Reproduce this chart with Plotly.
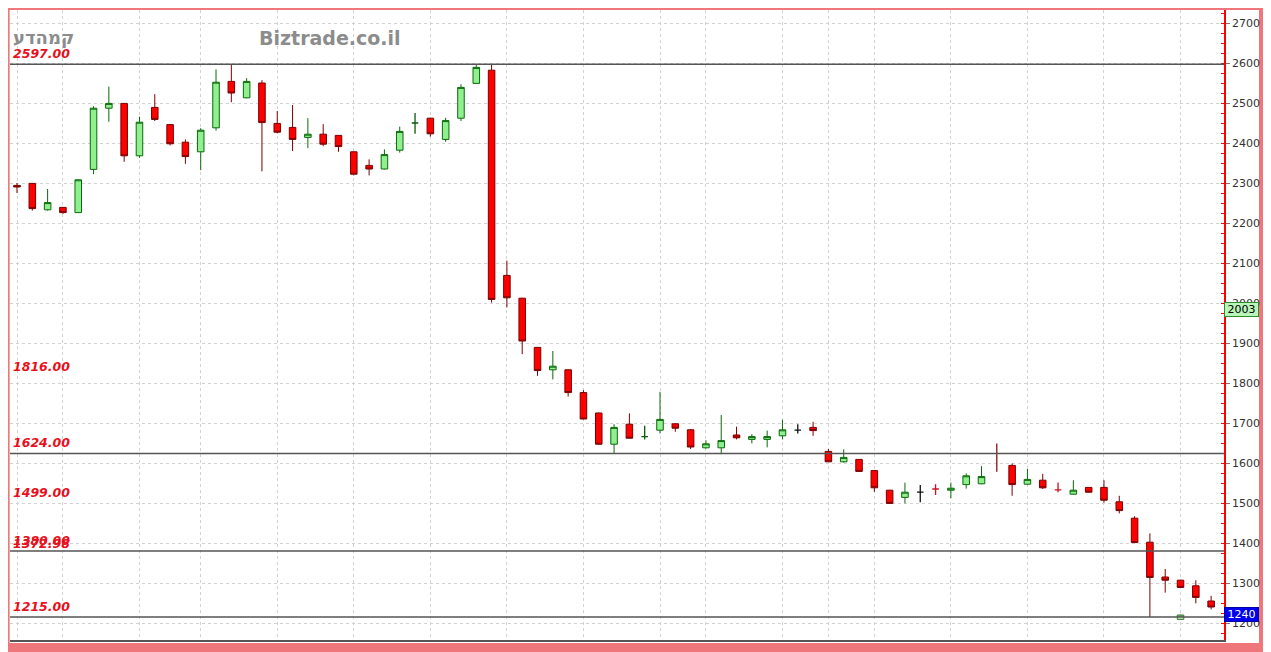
import plotly.graph_objects as go

# ---------------- data ----------------
opens = [2294, 2299, 2233, 2239, 2226, 2334, 2487, 2499, 2368, 2489,
         2446, 2402, 2378, 2438, 2554, 2513, 2550, 2449, 2439, 2414,
         2422, 2419, 2378, 2344, 2335, 2382, 2450, 2462, 2409, 2462,
         2549, 2582, 2069, 2012, 1889, 1833, 1833, 1776, 1725, 1647,
         1697, 1666, 1682, 1698, 1683, 1638, 1638, 1670, 1659, 1659,
         1668, 1682, 1689, 1629, 1603, 1609, 1581, 1532, 1514, 1527,
         1535, 1532, 1546, 1548, 1580, 1594, 1547, 1557, 1533, 1522,
         1539, 1539, 1503, 1462, 1402, 1315, 1307, 1293, 1255]
highs = [2300, 2300, 2285, 2240, 2309, 2492, 2541, 2500, 2466, 2522,
         2447, 2409, 2437, 2584, 2595, 2562, 2557, 2480, 2495, 2462,
         2447, 2420, 2379, 2359, 2384, 2441, 2475, 2463, 2463, 2547,
         2595, 2597, 2106, 2013, 1890, 1880, 1834, 1782, 1726, 1697,
         1724, 1693, 1778, 1700, 1685, 1657, 1720, 1691, 1672, 1681,
         1708, 1697, 1703, 1635, 1634, 1610, 1582, 1533, 1551, 1545,
         1547, 1551, 1574, 1592, 1649, 1599, 1585, 1573, 1551, 1557,
         1540, 1557, 1518, 1467, 1424, 1335, 1308, 1307, 1268]
lows = [2275, 2231, 2231, 2223, 2225, 2322, 2453, 2353, 2363, 2455,
        2394, 2348, 2332, 2431, 2502, 2512, 2329, 2424, 2380, 2387,
        2392, 2378, 2319, 2319, 2334, 2376, 2423, 2416, 2403, 2455,
        2548, 2001, 1989, 1872, 1818, 1809, 1766, 1709, 1646, 1624,
        1661, 1659, 1674, 1678, 1635, 1636, 1622, 1659, 1649, 1639,
        1659, 1674, 1668, 1603, 1601, 1578, 1528, 1498, 1499, 1502,
        1520, 1512, 1536, 1547, 1578, 1518, 1546, 1535, 1527, 1521,
        1526, 1501, 1474, 1400, 1215, 1276, 1288, 1249, 1234]
closes = [2290, 2236, 2251, 2226, 2308, 2487, 2499, 2368, 2452, 2459,
          2398, 2366, 2432, 2552, 2525, 2554, 2451, 2427, 2409, 2422,
          2397, 2391, 2322, 2335, 2371, 2429, 2450, 2423, 2456, 2539,
          2589, 2009, 2013, 1905, 1831, 1842, 1776, 1710, 1647, 1689,
          1662, 1666, 1709, 1687, 1640, 1648, 1656, 1663, 1666, 1666,
          1683, 1682, 1681, 1603, 1614, 1579, 1538, 1499, 1527, 1527,
          1535, 1537, 1568, 1566, 1580, 1546, 1559, 1538, 1533, 1532,
          1527, 1507, 1481, 1401, 1314, 1307, 1289, 1264, 1240]

# unchanged-price sessions (crosses) and a wick-only session
cross_green = [26, 41]
cross_black = [51, 59]
cross_red = [60, 68]
wick_only = [64]

# extra small marker candle near the lows
extra_x = [76]
extra_open = [1209]
extra_high = [1221]
extra_low = [1208]
extra_close = [1220]

# week separators (candle index)
week_starts = [0, 3, 8, 12, 17, 22, 27, 32, 37, 42, 45, 50, 53, 56, 61, 66, 71, 76]

# support / resistance levels
level_lines = [2597, 1624, 1380, 1215]
level_labels = [2597.00, 1816.00, 1624.00, 1499.00, 1380.00, 1372.98, 1215.00]

last_price = 1240
ref_price = 2003
y_ticks = list(range(1200, 2701, 100))

# ---------------- figure ----------------
PINK = "#EF767B"
RED_BODY = "#FF0000"
RED_LINE = "#7A0000"
GREEN_BODY = "#90F090"
GREEN_LINE = "#0A6A0A"

# page is drawn with an 8px body margin; figure is sized to fit exactly
W, H = 1263, 644
ML, MT, MR, MB = 2, 2, 47, 12
PW = W - ML - MR
PH = H - MT - MB

special = set(cross_green + cross_black + cross_red + wick_only)
xs = list(range(len(opens)))
main_idx = [i for i in xs if i not in special]


def sub(lst, idx):
    return [lst[i] for i in idx]


fig = go.Figure()

fig.add_trace(go.Candlestick(
    x=main_idx, open=sub(opens, main_idx), high=sub(highs, main_idx),
    low=sub(lows, main_idx), close=sub(closes, main_idx),
    increasing=dict(fillcolor=GREEN_BODY, line=dict(color=GREEN_LINE, width=1)),
    decreasing=dict(fillcolor=RED_BODY, line=dict(color=RED_LINE, width=1)),
    whiskerwidth=0, showlegend=False, hoverinfo="x+y"))

for idx, col in [(cross_green, "#0A5A0A"), (cross_black, "#111111"), (cross_red, "#CC1020")]:
    fig.add_trace(go.Candlestick(
        x=idx, open=sub(opens, idx), high=sub(highs, idx),
        low=sub(lows, idx), close=sub(closes, idx),
        increasing=dict(fillcolor=col, line=dict(color=col, width=1.3)),
        decreasing=dict(fillcolor=col, line=dict(color=col, width=1.3)),
        whiskerwidth=0, showlegend=False))

for i in wick_only:
    fig.add_trace(go.Scatter(x=[i, i], y=[lows[i], highs[i]], mode="lines",
                             line=dict(color=RED_LINE, width=1.2),
                             showlegend=False, hoverinfo="skip"))

fig.add_trace(go.Candlestick(
    x=extra_x, open=extra_open, high=extra_high, low=extra_low, close=extra_close,
    increasing=dict(fillcolor="#B8F0B0", line=dict(color="#3A7A3A", width=1)),
    decreasing=dict(fillcolor="#B8F0B0", line=dict(color="#3A7A3A", width=1)),
    whiskerwidth=0, showlegend=False))

# white panel inside the pink frame
fig.add_shape(type="rect", xref="paper", yref="paper",
              x0=-0.0003, x1=(1259 - 10) / PW, y0=-3 / PH, y1=1.0,
              fillcolor="white", line_width=0, layer="below")

for v in level_lines:
    fig.add_shape(type="line", xref="paper", yref="y", x0=0, x1=1, y0=v, y1=v,
                  line=dict(color="#555555", width=1.5))

for v in level_labels:
    fig.add_annotation(xref="paper", yref="y", x=0.0012, y=v, xanchor="left",
                       yanchor="bottom", yshift=1, showarrow=False,
                       text=f"{v:.2f}",
                       font=dict(family="DejaVu Sans", size=12.5, color="#E8101C",
                                 weight="bold", style="italic"))

fig.add_annotation(xref="paper", yref="paper", x=1 / PW, y=1 - 28 / PH,
                   xanchor="left", yanchor="middle", showarrow=False, text="קמהדע",
                   font=dict(family="DejaVu Sans", size=18, color="#8C8C8C", weight="bold"))
fig.add_annotation(xref="paper", yref="paper", x=320 / PW, y=1 - 28 / PH,
                   xanchor="center", yanchor="middle", showarrow=False, text="Biztrade.co.il",
                   font=dict(family="DejaVu Sans", size=19, color="#8C8C8C", weight="bold"))

fig.add_annotation(xref="paper", yref="y", x=1.0, y=ref_price, xanchor="left",
                   yanchor="top", showarrow=False, text=str(ref_price),
                   bgcolor="#B8F5B8", bordercolor="#2E8B2E", borderwidth=1, borderpad=0,
                   font=dict(family="DejaVu Sans", size=11, color="#000000"), width=33)
fig.add_annotation(xref="paper", yref="y", x=1.0, y=last_price, xanchor="left",
                   yanchor="top", showarrow=False, text=str(last_price),
                   bgcolor="#0000F0", bordercolor="#0000A0", borderwidth=1, borderpad=0,
                   font=dict(family="DejaVu Sans", size=11, color="#FFFFFF"), width=33)

fig.update_layout(
    width=W, height=H,
    margin=dict(l=ML, r=MR, t=MT, b=MB),
    paper_bgcolor=PINK, plot_bgcolor="white",
    boxgap=0.39, showlegend=False,
    xaxis=dict(range=[-0.457, 78.84], rangeslider=dict(visible=False),
               tickvals=week_starts, showticklabels=False, ticks="",
               showgrid=True, gridcolor="#D2D2D2", griddash="dot", gridwidth=1,
               zeroline=False, showline=True, linecolor="#555555", linewidth=2),
    yaxis=dict(side="right", range=[1157.5, 2732.5], tickvals=y_ticks,
               showgrid=True, gridcolor="#D2D2D2", griddash="dot", gridwidth=1,
               zeroline=False, showline=True, linecolor="#FF0000", linewidth=1.5,
               ticks="outside", ticklen=4, tickcolor="#777777",
               tickfont=dict(family="DejaVu Sans", size=11, color="#333333"),
               minor=dict(dtick=25, ticks="inside", ticklen=3, tickcolor="#FF0000",
                          showgrid=False)),
)

fig.write_html("out.html")
